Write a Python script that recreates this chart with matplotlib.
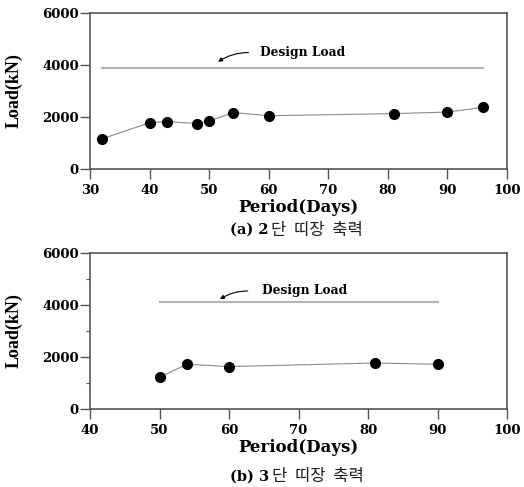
import matplotlib
matplotlib.use("Agg")
import matplotlib.pyplot as plt
from matplotlib.text import Annotation
from matplotlib.ticker import MultipleLocator

# ---- data ----
days_a = [32, 40, 43, 48, 50, 54, 60, 81, 90, 96]
load_a = [1160, 1780, 1820, 1750, 1840, 2170, 2050, 2130, 2190, 2370]
design_a_days = [32, 96]
design_a_load = [3900, 3900]

days_b = [50, 54, 60, 81, 90]
load_b = [1230, 1720, 1630, 1770, 1720]
design_b_days = [50, 90]
design_b_load = [4120, 4120]

xticks_a = [30, 40, 50, 60, 70, 80, 90, 100]
xticks_b = [40, 50, 60, 70, 80, 90, 100]
yticks = [0, 2000, 4000, 6000]

W, H = 524, 487
fig = plt.figure(figsize=(W / 100, H / 100), dpi=100)

TICKFONT = dict(family="DejaVu Serif", weight="bold", size=9.5)
SPINE = "#555555"


def make_axes(rect, days, load, ddays, dload, xlim, xticks, minor_y,
              arrow_xy, arrow_text_xy):
    ax = fig.add_axes(rect)
    ax.plot(ddays, dload, color="#b4b4b4", lw=1.5, zorder=1)
    ax.plot(days, load, color="#8a8a8a", lw=0.8, marker="o", ms=7,
            mfc="black", mec="black", zorder=2)
    ax.set_xlim(*xlim)
    ax.set_ylim(0, 6000)
    ax.set_xticks(xticks)
    ax.set_yticks(yticks)
    if minor_y:
        ax.yaxis.set_minor_locator(MultipleLocator(1000))
        ax.tick_params(axis="y", which="minor", length=3, width=0.8,
                       color=SPINE, direction="out")
    for s in ax.spines.values():
        s.set_color(SPINE)
        s.set_linewidth(1.2)
    ax.tick_params(axis="both", which="major", length=7, width=1.0,
                   color=SPINE, direction="out")
    ax.tick_params(axis="x", pad=4)
    ax.tick_params(axis="y", pad=1)
    for lab in ax.get_xticklabels() + ax.get_yticklabels():
        lab.set_fontfamily(TICKFONT["family"])
        lab.set_fontweight(TICKFONT["weight"])
        lab.set_fontsize(TICKFONT["size"])
    ax.set_xlabel("Period(Days)", family="DejaVu Serif", weight="bold",
                  size=12, va="center")
    ax.xaxis.set_label_coords(0.5, -0.245)
    ax.set_ylabel("Load(kN)", family="Liberation Serif", weight="bold",
                  size=13, va="center")
    ax.yaxis.set_label_coords(-0.182, 0.5)
    ax.annotate("", xy=arrow_xy, xytext=(arrow_text_xy[0] - 2.0, arrow_text_xy[1]),
                arrowprops=dict(arrowstyle="-|>", color="black", lw=0.8,
                                mutation_scale=6,
                                connectionstyle="arc3,rad=0.15",
                                shrinkA=0, shrinkB=0))
    ax.text(arrow_text_xy[0], arrow_text_xy[1], "Design Load",
            family="DejaVu Serif", weight="bold", size=8.8,
            ha="left", va="center")
    return ax


axw = (507 - 90) / W
axh = (169 - 13) / H
make_axes([90 / W, 1 - 169 / H, axw, axh], days_a, load_a,
          design_a_days, design_a_load, (30, 100), xticks_a, False,
          (51.5, 4120), (58.6, 4480))
make_axes([90 / W, 1 - 409 / H, axw, axh], days_b, load_b,
          design_b_days, design_b_load, (40, 100), xticks_b, True,
          (58.7, 4220), (64.7, 4540))


def caption(y_px, prefix, korean):
    t = fig.text(230 / W, 1 - y_px / H, prefix, family="DejaVu Serif",
                 weight="bold", size=10.5, ha="left", va="center")
    fig.add_artist(Annotation(
        korean, xy=(1, 0.5), xycoords=t, xytext=(2, 0),
        textcoords="offset points", ha="left", va="center",
        family="Noto Sans CJK KR", size=12, color="#222222"))


caption(230, "(a) 2", "단  띠장  축력")
caption(477, "(b) 3", "단  띠장  축력")

fig.savefig("out.png", dpi=100)
